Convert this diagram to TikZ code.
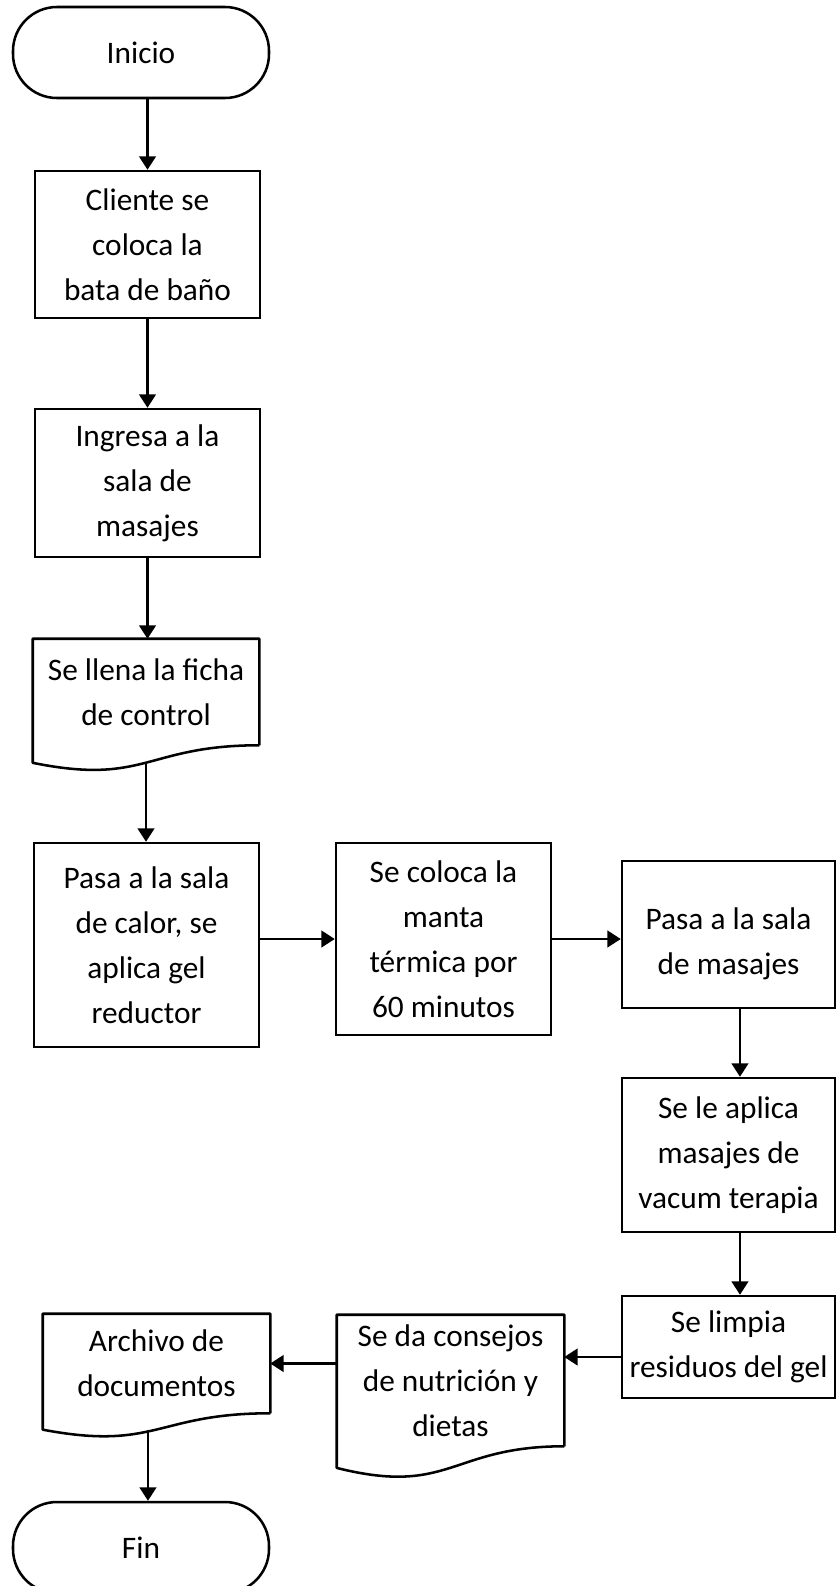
\documentclass[tikz,border=0pt]{standalone}
\usepackage{fontspec}
\setmainfont{Carlito}
\usetikzlibrary{arrows.meta,calc}

\tikzset{
  box/.style={draw, line width=1.9pt, align=center, inner sep=0pt,
    font=\fontsize{23.5pt}{33.75pt}\selectfont},
  term/.style={box, rounded corners=33pt},
  docu/.style={box, draw=none},
  docline/.style={line width=1.9pt, line join=round},
  flow/.style={line width=1.6pt, -{Triangle[length=10pt,width=12.5pt]}},
}

% document symbol drawn round a text node, wavy bottom below it
\newcommand{\docwave}[1]{%
  \draw[docline] (#1.south east) -- (#1.north east) -- (#1.north west)
    -- ($(#1.south west)!-0.1646!(#1.north west)$)
    .. controls ($(#1.south)!-0.381!(#1.north)$) and (#1.south) .. (#1.south east);
  \coordinate (#1-w) at ($(#1.south)!-0.1635!(#1.north)$);}

\begin{document}
\begin{tikzpicture}[x=0.75pt, y=-0.75pt]
\clip (0,0) rectangle (838,1586);
% left column
\node[term, minimum width=192pt, minimum height=68.25pt] (inicio) at (141,52.5) {Inicio};
\node[box, minimum width=168.75pt, minimum height=110.25pt] (cliente) at (147.5,244.5)
  {Cliente se\\ coloca la\\ bata de baño};
\node[box, minimum width=168.75pt, minimum height=111pt] (ingresa) at (147.5,483)
  {Ingresa a la\\ sala de\\ masajes};
\node[docu, minimum width=168pt, minimum height=78pt] (ficha) at (146,692)
  {Se llena la ficha\\ de control};
\docwave{ficha}
\node[box, minimum width=168.75pt, minimum height=153pt] (calor) at (146.5,945)
  {Pasa a la sala\\ de calor, se\\ aplica gel\\ reductor};
% middle row
\node[box, minimum width=161.25pt, minimum height=144pt] (manta) at (443.5,939)
  {Se coloca la\\ manta\\ térmica por\\ 60 minutos};
% right column
\node[box, minimum width=159.75pt, minimum height=110.25pt] (masajes) at (728.5,934.5)
  {\rule{0pt}{31pt}Pasa a la sala\\ de masajes};
\node[box, minimum width=159.75pt, minimum height=115.5pt] (vacum) at (728.5,1155)
  {Se le aplica\\ masajes de\\ vacum terapia};
\node[box, minimum width=159.75pt, minimum height=76.5pt] (limpia) at (728.5,1347)
  {Se limpia\\ residuos del gel};
% bottom row
\node[docu, minimum width=168.75pt, minimum height=96.75pt] (consejos) at (450.5,1380.5)
  {Se da consejos\\ de nutrición y\\ dietas};
\docwave{consejos}
\node[docu, minimum width=168.75pt, minimum height=72.75pt] (archivo) at (156.5,1363.5)
  {Archivo de\\ documentos};
\docwave{archivo}
\node[term, minimum width=192pt, minimum height=68.25pt] (fin) at (141,1547.5) {Fin};

% connectors
\draw[flow] (inicio.south -| cliente.north) -- (cliente.north);
\draw[flow] (cliente) -- (ingresa);
\draw[flow] (ingresa.south) -- (ingresa.south |- ficha.north);
\draw[flow] (ficha-w) -- (ficha-w |- calor.north);
\draw[flow] (calor.east |- manta.west) -- (manta.west);
\draw[flow] (manta.east) -- (manta.east -| masajes.west);
\draw[flow] ([xshift=8.6pt]masajes.south) -- ([xshift=8.6pt]vacum.north);
\draw[flow] ([xshift=8.6pt]vacum.south) -- ([xshift=8.6pt]limpia.north);
\draw[flow] ([yshift=-7.5pt]limpia.west) -- ([yshift=-7.5pt]limpia.west -| consejos.east);
\draw[flow] (consejos.west |- archivo.east) -- (archivo.east);
\draw[flow] ([xshift=-6.4pt]archivo-w) -- ([xshift=-6.4pt]archivo-w |- fin.north);
\end{tikzpicture}
\end{document}
